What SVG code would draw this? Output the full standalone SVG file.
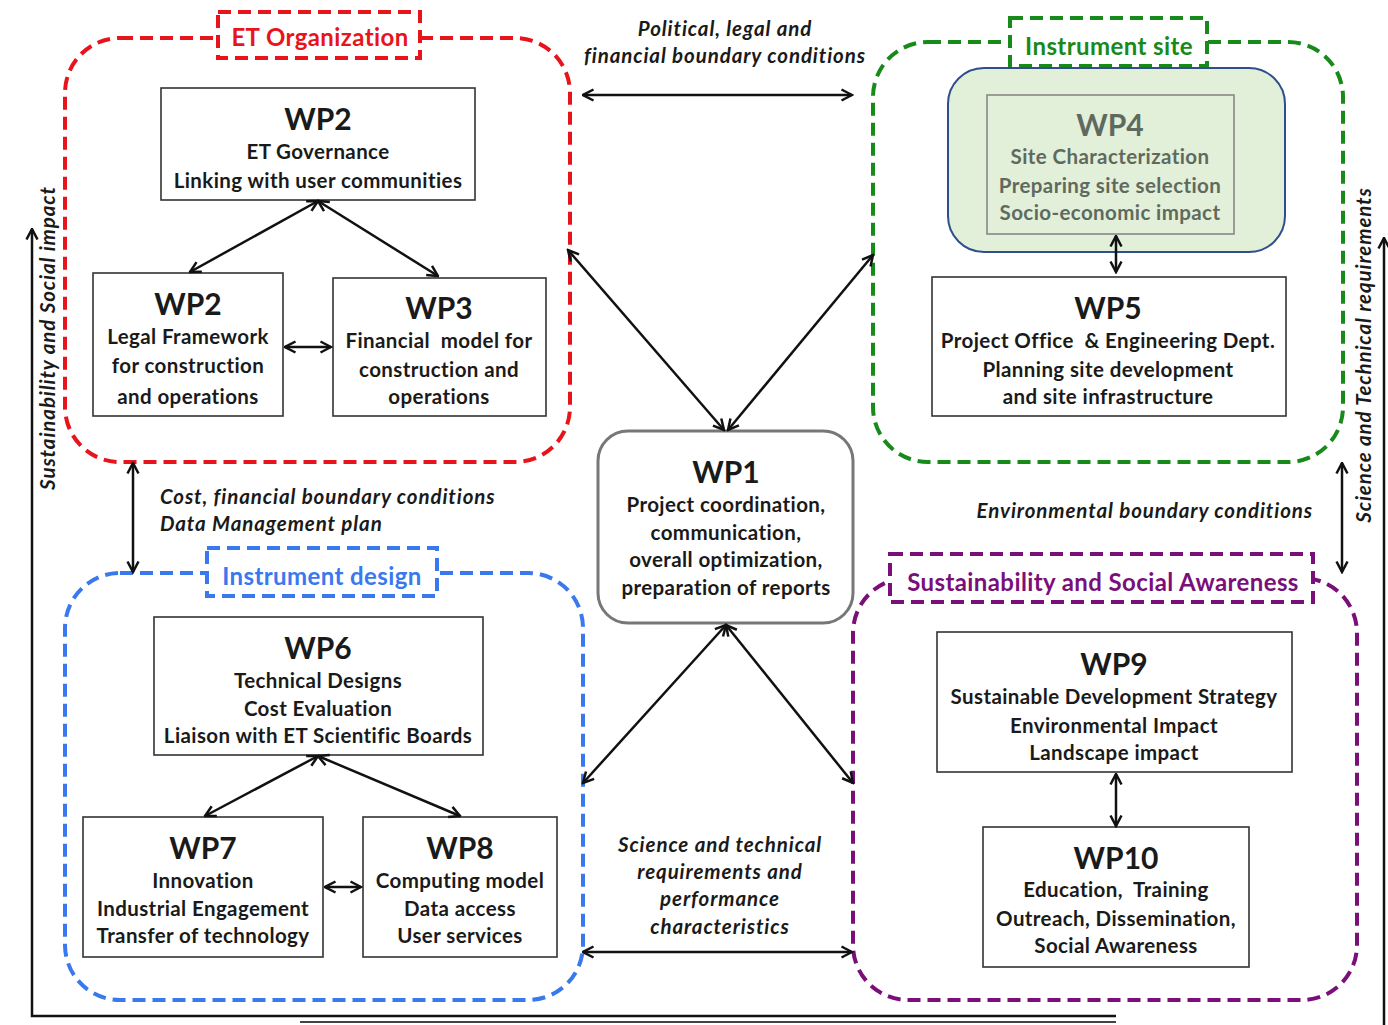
<svg xmlns="http://www.w3.org/2000/svg" width="1388" height="1025" viewBox="0 0 1388 1025">
<defs>
<style>
.grp{fill:none;stroke-width:4;stroke-dasharray:13 7;}
.lbl{fill:#fff;stroke-width:4;stroke-dasharray:13 7;}
.box{fill:#fff;stroke:#333;stroke-width:1.6;}
.t{font-family:Lato,"Open Sans",sans-serif;font-weight:700;text-anchor:middle;fill:#1a1a1a;white-space:pre;}
.h{font-size:30px;}
.b{font-size:20.5px;letter-spacing:0.4px;}
.it{font-family:Lato,"Open Sans",sans-serif;font-weight:700;font-style:italic;font-size:20.5px;letter-spacing:0.9px;fill:#1a1a1a;}
.gl{font-family:Lato,"Open Sans",sans-serif;font-weight:700;font-size:24px;letter-spacing:0.4px;text-anchor:middle;}
.c{fill:none;stroke:#111;stroke-width:2.5;marker-start:url(#ah);marker-end:url(#ah);}
.c1{fill:none;stroke:#111;stroke-width:2.5;marker-end:url(#ah);}
</style>
<marker id="ah" viewBox="0 0 14 14" refX="12.5" refY="7" markerWidth="14" markerHeight="14" markerUnits="userSpaceOnUse" orient="auto-start-reverse">
<path d="M2,1.5 L12.5,7 L2,12.5" fill="none" stroke="#111" stroke-width="2.5"/>
</marker>
</defs>

<g id="group-et-organization">
<rect class="grp" x="65" y="38" width="505" height="424" rx="55" stroke="#e8141b"/>
<rect class="lbl" x="218" y="12" width="202" height="46" stroke="#e8141b"/>
<text class="gl" x="320" y="46" fill="#e8141b">ET Organization</text>
</g>
<g id="group-instrument-site">
<rect class="grp" x="873" y="42" width="470" height="420" rx="55" stroke="#178a1a"/>
<rect class="lbl" x="1010" y="18" width="197" height="48" stroke="#178a1a"/>
<text class="gl" x="1109" y="55" fill="#178a1a">Instrument site</text>
</g>
<g id="group-instrument-design">
<rect class="grp" x="65" y="573" width="518" height="427" rx="55" stroke="#3a78ee"/>
<rect class="lbl" x="207" y="548" width="230" height="48" stroke="#3a78ee"/>
<text class="gl" x="322" y="585" fill="#3a78ee">Instrument design</text>
</g>
<g id="group-sustainability">
<rect class="grp" x="853" y="578" width="504" height="422" rx="55" stroke="#7a0f7a"/>
<rect class="lbl" x="890" y="554" width="423" height="48" stroke="#7a0f7a"/>
<text class="gl" x="1103" y="591" fill="#7a0f7a">Sustainability and Social Awareness</text>
</g>

<g id="wp2-governance">
<rect class="box" x="161" y="88" width="314" height="112"/>
<text class="t h" x="318" y="130">WP2</text>
<text class="t b" x="318" y="159">ET Governance</text>
<text class="t b" x="318" y="188">Linking with user communities</text>
</g>
<g id="wp2-legal">
<rect class="box" x="93" y="273" width="190" height="143"/>
<text class="t h" x="188" y="315">WP2</text>
<text class="t b" x="188" y="344">Legal Framework</text>
<text class="t b" x="188" y="373">for construction</text>
<text class="t b" x="188" y="404">and operations</text>
</g>
<g id="wp3">
<rect class="box" x="333" y="278" width="213" height="138"/>
<text class="t h" x="439" y="319">WP3</text>
<text class="t b" x="439" y="348">Financial  model for</text>
<text class="t b" x="439" y="377">construction and</text>
<text class="t b" x="439" y="404">operations</text>
</g>
<g id="wp4">
<rect x="948" y="68" width="337" height="184" rx="36" fill="#e2efd9" stroke="#2f4e8c" stroke-width="2"/>
<rect x="987" y="95" width="247" height="139" fill="none" stroke="#888" stroke-width="1.6"/>
<text class="t h" x="1110" y="136" style="fill:#5f6a5f">WP4</text>
<text class="t b" x="1110" y="164" style="fill:#5f6a5f">Site Characterization</text>
<text class="t b" x="1110" y="193" style="fill:#5f6a5f">Preparing site selection</text>
<text class="t b" x="1110" y="220" style="fill:#5f6a5f">Socio-economic impact</text>
</g>
<g id="wp5">
<rect class="box" x="932" y="277" width="354" height="139"/>
<text class="t h" x="1108" y="319">WP5</text>
<text class="t b" x="1108" y="348">Project Office  &amp; Engineering Dept.</text>
<text class="t b" x="1108" y="377">Planning site development</text>
<text class="t b" x="1108" y="404">and site infrastructure</text>
</g>
<g id="wp1">
<rect x="598" y="431" width="255" height="192" rx="30" fill="#fff" stroke="#777" stroke-width="3"/>
<text class="t h" x="726" y="483">WP1</text>
<text class="t b" x="726" y="512">Project coordination,</text>
<text class="t b" x="726" y="540">communication,</text>
<text class="t b" x="726" y="567">overall optimization,</text>
<text class="t b" x="726" y="595">preparation of reports</text>
</g>
<g id="wp6">
<rect class="box" x="154" y="617" width="329" height="138"/>
<text class="t h" x="318" y="659">WP6</text>
<text class="t b" x="318" y="688">Technical Designs</text>
<text class="t b" x="318" y="716">Cost Evaluation</text>
<text class="t b" x="318" y="743">Liaison with ET Scientific Boards</text>
</g>
<g id="wp7">
<rect class="box" x="83" y="817" width="240" height="140"/>
<text class="t h" x="203" y="859">WP7</text>
<text class="t b" x="203" y="888">Innovation</text>
<text class="t b" x="203" y="916">Industrial Engagement</text>
<text class="t b" x="203" y="943">Transfer of technology</text>
</g>
<g id="wp8">
<rect class="box" x="363" y="817" width="194" height="140"/>
<text class="t h" x="460" y="859">WP8</text>
<text class="t b" x="460" y="888">Computing model</text>
<text class="t b" x="460" y="916">Data access</text>
<text class="t b" x="460" y="943">User services</text>
</g>
<g id="wp9">
<rect class="box" x="937" y="632" width="355" height="140"/>
<text class="t h" x="1114" y="675">WP9</text>
<text class="t b" x="1114" y="704">Sustainable Development Strategy</text>
<text class="t b" x="1114" y="733">Environmental Impact</text>
<text class="t b" x="1114" y="760">Landscape impact</text>
</g>
<g id="wp10">
<rect class="box" x="983" y="827" width="266" height="140"/>
<text class="t h" x="1116" y="869">WP10</text>
<text class="t b" x="1116" y="897">Education,  Training</text>
<text class="t b" x="1116" y="926">Outreach, Dissemination,</text>
<text class="t b" x="1116" y="953">Social Awareness</text>
</g>

<g id="connectors">
<line class="c" x1="318" y1="201" x2="190" y2="272"/>
<line class="c" x1="318" y1="201" x2="438" y2="276"/>
<line class="c" x1="285" y1="347" x2="331" y2="347"/>
<line class="c" x1="1116" y1="236" x2="1116" y2="272"/>
<line class="c" x1="318" y1="756" x2="205" y2="816"/>
<line class="c" x1="318" y1="756" x2="460" y2="816"/>
<line class="c" x1="325" y1="887" x2="361" y2="887"/>
<line class="c" x1="1116" y1="774" x2="1116" y2="826"/>
<line class="c" x1="583" y1="95" x2="852" y2="95"/>
<line class="c" x1="568" y1="250" x2="724" y2="430"/>
<line class="c" x1="873" y1="255" x2="728" y2="430"/>
<line class="c" x1="726" y1="625" x2="583" y2="783"/>
<line class="c" x1="726" y1="625" x2="853" y2="783"/>
<line class="c" x1="583" y1="952" x2="852" y2="952"/>
<line class="c" x1="133" y1="463" x2="133" y2="572"/>
<line class="c" x1="1342" y1="463" x2="1342" y2="572"/>
<polyline class="c1" points="1116,1016 32,1016 32,229"/>
<line x1="300" y1="1022" x2="1116" y2="1022" stroke="#444" stroke-width="2"/>
<line class="c1" x1="1384" y1="1025" x2="1384" y2="238"/>
<text class="it" x="725" y="36" text-anchor="middle">Political, legal and</text>
<text class="it" x="725" y="63" text-anchor="middle">financial boundary conditions</text>
<text class="it" x="160" y="504">Cost, financial boundary conditions</text>
<text class="it" x="160" y="531">Data Management plan</text>
<text class="it" x="1313" y="518" text-anchor="end">Environmental boundary conditions</text>
<text class="it" x="720" y="852" text-anchor="middle">Science and technical</text>
<text class="it" x="720" y="879" text-anchor="middle">requirements and</text>
<text class="it" x="720" y="906" text-anchor="middle">performance</text>
<text class="it" x="720" y="934" text-anchor="middle">characteristics</text>
<text class="it" transform="translate(55,338) rotate(-90)" text-anchor="middle">Sustainability and Social impact</text>
<text class="it" transform="translate(1371,355) rotate(-90)" text-anchor="middle">Science and Technical requirements</text>
</g>
</svg>
